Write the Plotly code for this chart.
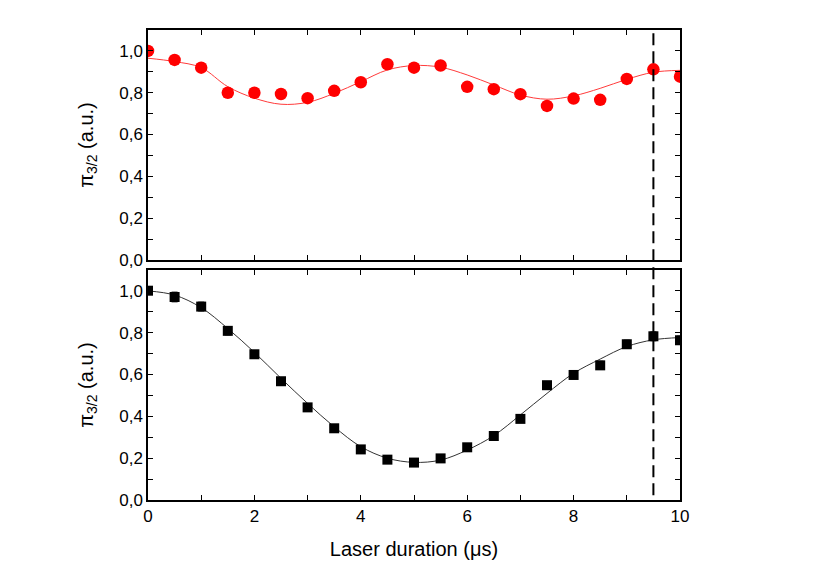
import plotly.graph_objects as go
from plotly.subplots import make_subplots

# ---- data ----
t = [0, 0.5, 1, 1.5, 2, 2.5, 3, 3.5, 4, 4.5, 5, 5.5, 6, 6.5, 7, 7.5, 8, 8.5, 9, 9.5, 10]
top_vals = [1.0, 0.957, 0.92, 0.80, 0.80, 0.794, 0.774, 0.809, 0.85, 0.936, 0.92, 0.93,
            0.828, 0.817, 0.793, 0.737, 0.772, 0.766, 0.866, 0.912, 0.877]
bot_vals = [1.001, 0.971, 0.925, 0.809, 0.697, 0.568, 0.443, 0.343, 0.242, 0.193, 0.179,
            0.199, 0.252, 0.306, 0.388, 0.549, 0.598, 0.644, 0.745, 0.783, 0.764]
bot_err = [0.015, 0.024, 0.022, 0.02, 0.018, 0.018, 0.015, 0.015, 0.015, 0.012, 0.012,
           0.012, 0.012, 0.015, 0.015, 0.018, 0.018, 0.02, 0.02, 0.022, 0.02]

fit_t = [0, 0.5, 1, 1.5, 2, 2.5, 3, 3.5, 4, 4.5, 5, 5.5, 6, 6.5, 7, 7.5, 8, 8.5, 9, 9.5, 10]
top_fit = [0.965, 0.949, 0.920, 0.829, 0.774, 0.745, 0.754, 0.797, 0.853, 0.909, 0.930,
           0.922, 0.885, 0.837, 0.789, 0.769, 0.785, 0.821, 0.864, 0.898, 0.907]
bot_fit = [1.0, 0.98, 0.92, 0.82, 0.706, 0.582, 0.462, 0.35, 0.255, 0.20, 0.18, 0.191,
           0.239, 0.308, 0.407, 0.51, 0.606, 0.674, 0.734, 0.766, 0.777]

marker_time = 9.5

FONT = "Liberation Sans, Arial, sans-serif"

fig = make_subplots(rows=2, cols=1, shared_xaxes=False, vertical_spacing=0.0213)

fig.add_trace(go.Scatter(x=fit_t, y=top_fit, mode="lines", line=dict(color="#ff3b3b", width=1, shape="spline"),
                         showlegend=False, hoverinfo="skip"), row=1, col=1)
fig.add_trace(go.Scatter(x=t, y=top_vals, mode="markers", marker=dict(symbol="circle", size=12.5, color="#ff0000"),
                         showlegend=False), row=1, col=1)

fig.add_trace(go.Scatter(x=fit_t, y=bot_fit, mode="lines", line=dict(color="#333333", width=1, shape="spline"),
                         showlegend=False, hoverinfo="skip"), row=2, col=1)
fig.add_trace(go.Scatter(x=t, y=bot_vals, mode="markers",
                         error_y=dict(type="data", array=bot_err, color="#555555", thickness=1, width=3),
                         marker=dict(symbol="square", size=10, color="#000000"),
                         showlegend=False), row=2, col=1)

axis_common = dict(showgrid=False, zeroline=False, showline=True, linecolor="black", linewidth=1.5,
                   mirror="ticks", ticks="inside", ticklen=5, tickwidth=1.2, tickcolor="black",
                   tickfont=dict(family=FONT, size=17, color="black"))

for r in (1, 2):
    fig.update_xaxes(range=[0, 10], tick0=0, dtick=2, showticklabels=(r == 2),
                     minor=dict(dtick=1, ticks="inside", ticklen=5, tickwidth=1.2, tickcolor="black", showgrid=False),
                     **axis_common, row=r, col=1)
    fig.update_yaxes(range=[0, 1.1], tick0=0, dtick=0.2, tickformat=".1f",
                     minor=dict(dtick=0.1, ticks="inside", ticklen=5, tickwidth=1.2, tickcolor="black", showgrid=False),
                     title=dict(text="π<sub>3/2</sub> (a.u.)", font=dict(family=FONT, size=20, color="black"),
                                standoff=20),
                     **axis_common, row=r, col=1)

fig.update_xaxes(title=dict(text="Laser duration (μs)", font=dict(family=FONT, size=20, color="black"),
                            standoff=17), row=2, col=1)

fig.add_shape(type="line", x0=marker_time, x1=marker_time, xref="x", yref="paper", y0=0.01, y1=1.0,
              line=dict(color="black", width=2, dash="12px,6px"))

# the page body has an 8px default margin, so the figure is sized/offset to compensate
fig.update_layout(width=822, height=573, plot_bgcolor="white", paper_bgcolor="white",
                  separators=",.",
                  margin=dict(l=140, r=150, t=22, b=81), font=dict(family=FONT, color="black"))

fig.write_html("out.html")
